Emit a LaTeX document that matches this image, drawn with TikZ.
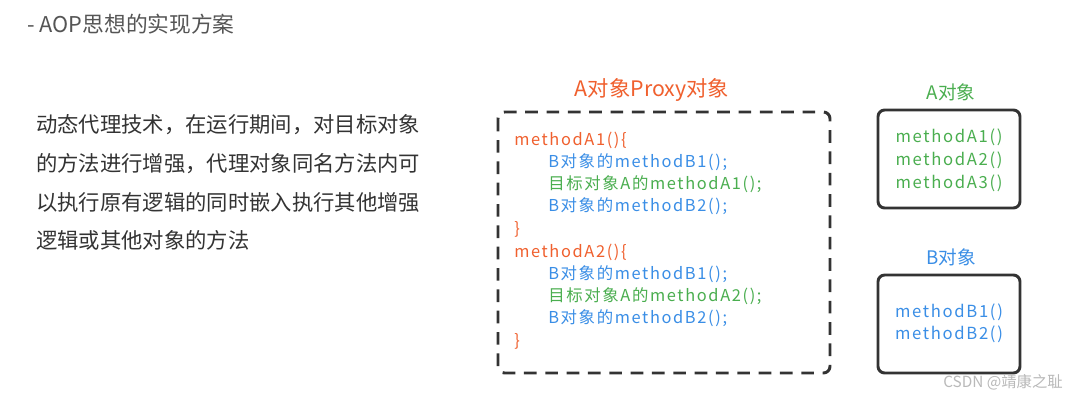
\documentclass[tikz,border=0pt]{standalone}
\usepackage{fontspec}
\setmainfont{Noto Sans CJK SC}
\newfontfamily\codefont[LetterSpace=10]{Noto Sans CJK SC}
\definecolor{titlegray}{HTML}{555555}
\definecolor{pargray}{HTML}{333333}
\definecolor{orangered}{HTML}{F0602E}
\definecolor{codeblue}{HTML}{3A8EE6}
\definecolor{codegreen}{HTML}{4AAE4F}
\definecolor{boxgray}{HTML}{333333}
\tikzset{
  codeline/.style={anchor=west, inner sep=0pt, font=\codefont\fontsize{12.3}{14}\selectfont},
  orangeline/.style={codeline, text=orangered},
  blueline/.style={codeline, text=codeblue},
  greenline/.style={codeline, text=codegreen},
  parline/.style={anchor=west, inner sep=0pt, text=pargray, font=\fontsize{16}{18}\selectfont},
  objbox/.style={draw=boxgray, line width=2.2pt, rounded corners=5pt},
  proxybox/.style={draw=boxgray, line width=2.2pt, rounded corners=5pt, dash pattern=on 9.5pt off 6.5pt},
  boxtitle/.style={inner sep=0pt, font=\fontsize{14}{16}\selectfont},
  boxline/.style={inner sep=0pt, font=\codefont\fontsize{12.5}{14}\selectfont}
}
\begin{document}
\begin{tikzpicture}[x=0.75pt,y=-0.75pt]
\useasboundingbox (0,0) rectangle (1078,401);
\fill[white] (0,0) rectangle (1078,401);

% title
\node[anchor=west, inner sep=0pt, text=titlegray, font=\fontsize{16.3}{18}\selectfont] (title) at (27,24) {- AOP思想的实现方案};

% paragraph
\node[parline] (p1) at (36,125) {动态代理技术，在运行期间，对目标对象};
\node[parline] (p2) at (36,163.5) {的方法进行增强，代理对象同名方法内可};
\node[parline] (p3) at (36,202) {以执行原有逻辑的同时嵌入执行其他增强};
\node[parline] (p4) at (36,240.5) {逻辑或其他对象的方法};

% proxy box
\node[boxtitle, text=orangered, font=\fontsize{16}{18}\selectfont] (ptitle) at (652,90) {A对象Proxy对象};
\draw[proxybox] (498,112) rectangle (830,373);
\node[orangeline] (c1) at (514,140) {methodA1()\{};
\node[blueline] (c2) at (548,162) {B对象的methodB1();};
\node[greenline] (c3) at (548,184) {目标对象A的methodA1();};
\node[blueline] (c4) at (548,206) {B对象的methodB2();};
\node[orangeline] (c5) at (514,229) {\}};
\node[orangeline] (c6) at (514,252) {methodA2()\{};
\node[blueline] (c7) at (548,274) {B对象的methodB1();};
\node[greenline] (c8) at (548,296) {目标对象A的methodA2();};
\node[blueline] (c9) at (548,318) {B对象的methodB2();};
\node[orangeline] (c10) at (514,341) {\}};

% A object
\node[boxtitle, text=codegreen] (atitle) at (951,92) {A对象};
\draw[objbox] (878,110) rectangle (1020,208);
\node[boxline, text=codegreen] (a1) at (949,137) {methodA1()};
\node[boxline, text=codegreen] (a2) at (949,160) {methodA2()};
\node[boxline, text=codegreen] (a3) at (949,183) {methodA3()};

% B object
\node[boxtitle, text=codeblue] (btitle) at (951,257) {B对象};
\draw[objbox] (878,275) rectangle (1020,373);
\node[boxline, text=codeblue] (b1) at (949,312) {methodB1()};
\node[boxline, text=codeblue] (b2) at (949,334) {methodB2()};

% watermark
\node[anchor=east, inner sep=0pt, text=gray!55, font=\fontsize{11.5}{13}\selectfont] (wm) at (1063,382) {CSDN @靖康之耻};
\end{tikzpicture}
\end{document}
